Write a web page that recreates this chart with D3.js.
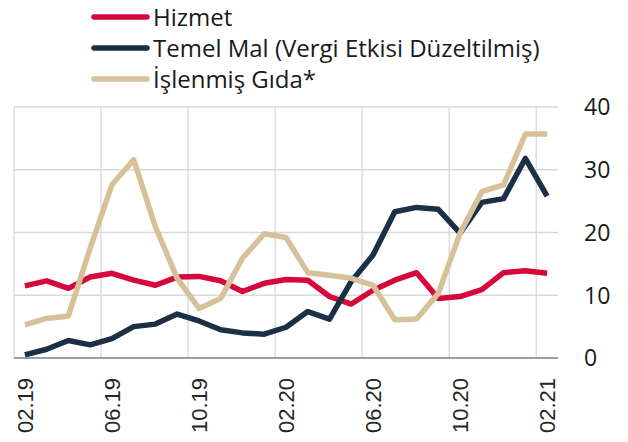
<!DOCTYPE html>
<html>
<head>
<meta charset="utf-8">
<script src="https://cdn.jsdelivr.net/npm/d3@7"></script>
<style>
  body { margin: 0; background: #fff; }
  svg { display: block; }
</style>
</head>
<body>
<svg id="chart" width="628" height="442"></svg>
<script>
// months 02.19 .. 02.21
var months = ["02.19","03.19","04.19","05.19","06.19","07.19","08.19","09.19","10.19","11.19","12.19","01.20",
              "02.20","03.20","04.20","05.20","06.20","07.20","08.20","09.20","10.20","11.20","12.20","01.21","02.21"];
var tickLabels = ["02.19","06.19","10.19","02.20","06.20","10.20","02.21"];
var yTicks = [0, 10, 20, 30, 40];

var hizmet = [11.5,12.3,11.1,12.9,13.5,12.4,11.6,12.9,13.0,12.3,10.6,11.9,12.5,12.4,9.8,8.6,10.8,12.4,13.6,9.5,9.8,10.9,13.6,13.9,13.5];
var temelMal = [0.5,1.4,2.8,2.1,3.1,5.0,5.4,7.0,5.9,4.5,4.0,3.8,4.9,7.4,6.2,12.2,16.4,23.3,24.0,23.7,19.9,24.8,25.4,31.8,25.8];
var islenmisGida = [5.3,6.3,6.7,17.5,27.6,31.6,20.9,12.7,7.9,9.5,15.9,19.8,19.2,13.6,13.2,12.7,11.6,6.1,6.2,10.3,19.9,26.5,27.6,35.7,35.7];

var seriesNames = ["Hizmet", "Temel Mal (Vergi Etkisi Düzeltilmiş)", "İşlenmiş Gıda*"];
var seriesColors = ["#d6083b", "#1b2f45", "#d6c19b"];
var seriesData = [hizmet, temelMal, islenmisGida];

var svg = d3.select("#chart");
var plotLeft = 14, plotRight = 558, plotTop = 107, plotBottom = 358;

var x = d3.scaleBand().domain(months).range([plotLeft, plotRight]);
var y = d3.scaleLinear().domain([0, 40]).range([plotBottom, plotTop]);

// horizontal gridlines
svg.append("g").selectAll("line")
    .data(yTicks.filter(function (d) { return d > 0; }))
    .enter().append("line")
    .attr("x1", plotLeft).attr("x2", plotRight)
    .attr("y1", function (d) { return y(d); })
    .attr("y2", function (d) { return y(d); })
    .attr("stroke", "#d9d9d9").attr("stroke-width", 1.3);

// vertical gridlines at band edges every 4 months
var vIdx = [0, 4, 8, 12, 16, 20, 24];
svg.append("g").selectAll("line")
    .data(vIdx)
    .enter().append("line")
    .attr("x1", function (i) { return x(months[i]); })
    .attr("x2", function (i) { return x(months[i]); })
    .attr("y1", plotTop).attr("y2", plotBottom)
    .attr("stroke", "#d9d9d9").attr("stroke-width", 1.3);

// bottom axis line
svg.append("line")
    .attr("x1", plotLeft).attr("x2", plotRight)
    .attr("y1", plotBottom).attr("y2", plotBottom)
    .attr("stroke", "#7f7f7f").attr("stroke-width", 1.5);

// right y labels
svg.append("g").selectAll("text")
    .data(yTicks)
    .enter().append("text")
    .attr("x", 584)
    .attr("y", function (d) { return y(d); })
    .attr("dy", "0.36em")
    .attr("font-family", "'Open Sans', sans-serif")
    .attr("font-size", 23)
    .attr("fill", "#1a1a1a")
    .text(function (d) { return d; });

// x tick labels, rotated
svg.append("g").selectAll("text")
    .data(tickLabels)
    .enter().append("text")
    .attr("transform", function (d) {
        return "translate(" + (x(d) + x.bandwidth() / 2) + ",378) rotate(-90)";
    })
    .attr("text-anchor", "end")
    .attr("dy", "0.36em")
    .attr("font-family", "'Liberation Sans', Arial, sans-serif")
    .attr("font-size", 22)
    .attr("fill", "#262626")
    .text(function (d) { return d; });

// lines
var line = d3.line()
    .x(function (d, i) { return x(months[i]) + x.bandwidth() / 2; })
    .y(function (d) { return y(d); });

svg.append("g").selectAll("path")
    .data(seriesData)
    .enter().append("path")
    .attr("d", line)
    .attr("fill", "none")
    .attr("stroke", function (d, i) { return seriesColors[i]; })
    .attr("stroke-width", 5.5)
    .attr("stroke-linejoin", "round");

// legend
var legend = svg.append("g").selectAll("g")
    .data(seriesNames)
    .enter().append("g")
    .attr("transform", function (d, i) { return "translate(0," + (17 + i * 31) + ")"; });

legend.append("line")
    .attr("x1", 94).attr("x2", 147)
    .attr("y1", 0).attr("y2", 0)
    .attr("stroke", function (d, i) { return seriesColors[i]; })
    .attr("stroke-width", 5.5)
    .attr("stroke-linecap", "round");

legend.append("text")
    .attr("x", 153)
    .attr("y", 0)
    .attr("dy", "0.36em")
    .attr("font-family", "'Open Sans', sans-serif")
    .attr("font-size", 24)
    .attr("fill", "#1a1a1a")
    .text(function (d) { return d; });
</script>
</body>
</html>
